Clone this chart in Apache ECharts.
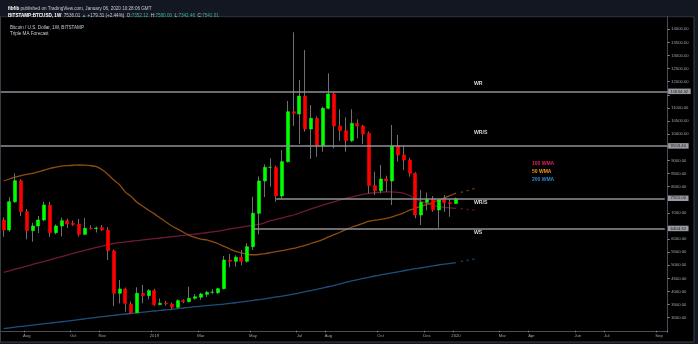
<!DOCTYPE html>
<html><head><meta charset="utf-8">
<script src="https://cdn.jsdelivr.net/npm/echarts@6/dist/echarts.min.js"></script>
<style>html,body{margin:0;padding:0;background:#131722;}#c{width:698px;height:344px;}</style>
</head><body><div id="c"></div>
<script>
// ---- categories (weekly bars, Monday) ----
const firstWeek = '2018-07-09';
const weekCount = 115;
const xTickLabels = [
  ['2018-08-06','Aug'],['2018-10-01','Oct'],['2018-11-05','Nov'],['2019-01-07','2019'],
  ['2019-03-04','Mar'],['2019-05-06','May'],['2019-07-01','Jul'],['2019-08-05','Aug'],
  ['2019-10-07','Oct'],['2019-12-02','Dec'],['2020-01-06','2020'],['2020-03-02','Mar'],
  ['2020-04-06','Apr'],['2020-06-01','Jun'],['2020-07-06','Jul'],['2020-09-07','Sep']
];
const yHiddenLabels = [6500, 7500, 9500, 11500];

// ---- OHLC ----
const openP = [6726,6345,7424,8225,7043,6319,6497,6726,7287,6242,
 6497,6700,6600,6574,6180,6410,6400,6433,6345,5544,
 3930,4094,3522,3190,3930,3839,4030,3496,3550,3522,
 3397,3650,3610,3740,3778,3892,3968,3953,4106,5200,
 5150,5304,5150,5708,6982,8214,8737,8740,7642,8950,
 10857,10770,11456,10197,10605,9549,10987,11532,10311,10133,
 9751,10414,10311,10033,8034,7844,8290,8214,9560,9205,
 9015,8507,6917,7402,7516,7108,7527,7386,7352.12];
const closeP = [6345,7424,8225,7043,6319,6497,6726,7298,6242,6497,
 6700,6574,6550,6180,6410,6400,6420,6345,5555,3930,
 4094,3549,3190,3930,3839,4030,3496,3550,3522,3397,
 3650,3610,3740,3800,3904,3968,3975,4106,5200,5150,
 5304,5150,5708,6982,8214,8737,8740,7642,8950,10857,
 10796,11456,10197,10605,9549,10987,11532,10311,10133,9751,
 10414,10311,10006,8034,7844,8290,8214,9560,9205,9015,
 8507,6917,7402,7516,7108,7490,7386,7352,7541.01];
const lowP = [6090,6280,7380,6879,5990,5899,6230,6680,6090,6180,
 6100,6420,6500,6090,6150,6370,6250,6300,5200,3446,
 3549,3229,3150,3170,3550,3700,3450,3480,3460,3320,
 3360,3550,3590,3690,3680,3790,3910,3910,4080,4922,
 4950,5000,5100,5582,6178,7600,7996,7424,7520,8920,
 10311,9625,10094,9054,9140,9331,10950,9461,9751,9331,
 9700,9842,9625,7745,7680,7745,7806,7298,8950,8633,
 8378,6791,6536,7089,7040,6432,7043,6852,7342.46];
const highP = [6829,7600,8507,8280,7150,6620,6880,7420,7420,6560,
 6820,6780,6700,6764,6800,6520,6480,6536,6450,5600,
 4438,4150,3620,4160,4247,4090,4100,3730,3640,3580,
 3700,3700,4183,3900,3950,4030,4090,4140,5353,5430,
 5380,5582,5837,7615,8390,8850,9080,8800,9396,11265,
 13885,12066,13210,11112,10680,11050,12322,11600,10949,10643,
 10949,10567,10350,10100,8569,8824,8416,10350,9968,9560,
 9100,8550,7871,7768,7640,7540,7680,7516,7580];

// ---- moving averages ----
const wma100 = [4732,4790,4850,4910,4970,5030,5090,5150,5210,5270,
 5330,5390,5450,5510,5570,5620,5680,5730,5780,5830,
 5861,5890,5915,5940,5965,5990,6015,6040,6065,6090,
 6115,6140,6165,6190,6215,6240,6270,6300,6340,6383,
 6420,6455,6490,6525,6560,6620,6700,6750,6800,6860,
 6917,6990,7070,7150,7220,7290,7360,7420,7490,7550,
 7600,7660,7707,7740,7765,7785,7800,7800,7780,7745,
 7660,7540,7440,7360,7290,7240,7210,7190,7170];
const wma50 = [8214,8290,8360,8420,8470,8507,8570,8630,8698,8740,
 8780,8800,8815,8824,8820,8800,8760,8640,8460,8250,
 8070,7790,7620,7400,7250,7100,6960,6800,6650,6500,
 6380,6260,6140,6060,6000,5964,5900,5820,5720,5620,
 5530,5470,5420,5400,5410,5440,5480,5520,5560,5600,
 5640,5700,5760,5830,5900,5980,6080,6170,6260,6360,
 6450,6520,6600,6680,6720,6750,6790,6850,6920,7000,
 7100,7180,7250,7320,7400,7480,7570,7660,7750];
const wma200 = [2580,2610,2640,2665,2690,2720,2745,2770,2795,2820,
 2845,2870,2895,2925,2955,2985,3015,3040,3065,3090,
 3115,3140,3160,3185,3210,3230,3255,3280,3300,3320,
 3345,3370,3395,3420,3440,3460,3480,3500,3520,3545,
 3570,3600,3630,3660,3690,3720,3755,3790,3825,3860,
 3900,3945,3990,4035,4080,4130,4180,4235,4290,4345,
 4400,4450,4500,4545,4590,4630,4670,4710,4750,4790,
 4830,4870,4905,4940,4975,5010,5040,5070,5100];
const fc100 = [7157,7130,7108];
const fc50 = [7790,7850,7920];
const fc200 = [5150,5190,5227];

// ---- horizontal levels & notes ----
const levelValues = [11634.32, 9553.40, 7555.00, 6404.32];
const levelStart = [null, null, '2019-06-03', '2019-05-06'];
const lastPrice = 7541.01;
const noteTexts = ['WR', 'WR/S', 'WR/S', 'WS'];
const noteValues = [11925, 10045, 7386, 6242];
const noteWeek = '2020-01-27';

// ---- build ----
const cats = [];
(function(){ const d0 = new Date(firstWeek + 'T00:00:00Z');
  for (let i = 0; i < weekCount; i++) { cats.push(new Date(d0.getTime() + i*7*864e5).toISOString().slice(0,10)); } })();
const tickMap = Object.fromEntries(xTickLabels);
const lastIdx = openP.length - 1;
const wickData = openP.map((o,i)=>[o, closeP[i], lowP[i], highP[i]]);
const bodyData = openP.map((o,i)=>[o, closeP[i], Math.min(o, closeP[i]), Math.max(o, closeP[i])]);
const fcData = arr => arr.map((v,k)=>[cats[lastIdx+1+k], v]);
const FONT = 'Liberation Sans';
const tagLabel = (v, dist) => ({show:true, position:'end', distance: dist, formatter: v.toFixed(2),
  backgroundColor:'#9a9ca3', color:'#1a1a1a', fontSize:4.3, fontFamily: FONT, padding:[1,2.5,0.5,2.5]});
const levelLines = levelValues.map((v,k)=> levelStart[k]
  ? [{coord:[levelStart[k], v], label: tagLabel(v, 3.2)}, {coord:[cats[weekCount-1], v]}]
  : {yAxis: v, label: tagLabel(v, 0.4)});
levelLines.push({yAxis: lastPrice, lineStyle:{opacity:0},
  label:{show:true, position:'end', distance:0.4, offset:[0,6], formatter: lastPrice.toFixed(2),
  backgroundColor:'#00ff00', color:'#0a2a0a', fontSize:4.3, fontFamily: FONT, padding:[1,2.5,0.5,2.5]}});

const chart = echarts.init(document.getElementById('c'), null, {renderer:'canvas', width:698, height:344});
chart.setOption({
  animation:false,
  backgroundColor:'#131722',
  textStyle:{fontFamily: FONT},
  graphic:[
    {type:'rect', z:-10, shape:{x:0, y:16.7, width:694, height:325.3}, style:{fill:'#000000'}},
    {type:'line', z:-9, shape:{x1:0, y1:16.7, x2:694, y2:16.7}, style:{stroke:'#2f3340', lineWidth:1}},
    {type:'line', z:-9, shape:{x1:694, y1:16.7, x2:694, y2:342}, style:{stroke:'#3a3e4a', lineWidth:1}},
    {type:'line', z:-9, shape:{x1:0, y1:342, x2:694, y2:342}, style:{stroke:'#3a3e4a', lineWidth:1}},
    {type:'line', z:-9, shape:{x1:0.5, y1:16.7, x2:0.5, y2:342}, style:{stroke:'#3a3e4a', lineWidth:1}}
  ],
  title:[
    {text:'{b|fibfib} published on TradingView.com, January 06, 2020 10:28:06 GMT', left:3, top:1.6,
     textStyle:{fontSize:4.6, color:'#c8cad0', fontWeight:'normal', rich:{b:{fontSize:4.6, fontWeight:'bold', color:'#ffffff'}}}},
    {text:'{b|BITSTAMP:BTCUSD, 1W}  7536.01 {g|▲} +179.31 (+2.44%)  O:{g|7352.12}  H:{g|7580.00}  L:{g|7342.46}  C:{g|7541.01}', left:3, top:8,
     textStyle:{fontSize:4.6, color:'#c8cad0', fontWeight:'normal', rich:{b:{fontSize:4.6, fontWeight:'bold', color:'#ffffff'}, g:{fontSize:4.6, color:'#35b58f'}}}},
    {text:'Bitcoin / U.S. Dollar, 1W, BITSTAMP', left:5, top:20.3, textStyle:{fontSize:4.6, color:'#c8cad0', fontWeight:'normal'}},
    {text:'Triple MA Forecast', left:5, top:26.6, textStyle:{fontSize:4.6, color:'#c8cad0', fontWeight:'normal'}}
  ],
  legend:{orient:'vertical', left:527, top:161.5, padding:0, icon:'none', itemWidth:0, itemHeight:5, itemGap:3,
    selectedMode:false, textStyle:{fontSize:5, fontWeight:'bold', fontFamily: FONT},
    data:[{name:'100 WMA', textStyle:{color:'#e0245e'}}, {name:'50 WMA', textStyle:{color:'#f39a16'}}, {name:'200 WMA', textStyle:{color:'#2a8bd8'}}]},
  grid:{left:0.7, right:30.3, top:16.2, bottom:13.2, containLabel:false},
  xAxis:{type:'category', data:cats, boundaryGap:true,
    axisLine:{show:true, lineStyle:{color:'#4a4d55', width:1}},
    axisTick:{show:true, interval:(i,v)=>tickMap[v]!==undefined, length:1.5, lineStyle:{color:'#8a8d95'}},
    axisLabel:{interval:(i,v)=>tickMap[v]!==undefined, formatter:v=>tickMap[v]||'', color:'#a0a3aa', fontSize:4.2, margin:3.2, hideOverlap:false},
    splitLine:{show:false}},
  yAxis:{type:'value', position:'right', min:2500, max:14500, interval:500, scale:false,
    axisLine:{show:true, lineStyle:{color:'#4a4d55', width:1}},
    axisTick:{show:true, length:2, lineStyle:{color:'#8a8d95'}},
    axisLabel:{showMinLabel:false, showMaxLabel:false, margin:3.5, color:'#a0a3aa', fontSize:4.2,
      formatter:v=> yHiddenLabels.indexOf(v)>=0 ? '' : v.toFixed(2)},
    splitLine:{show:false}},
  series:[
    {name:'100 WMA', type:'line', data:wma100, showSymbol:false, smooth:0.3, z:1, lineStyle:{color:'#6e1a36', width:1.3}, itemStyle:{color:'#e0245e'}},
    {name:'50 WMA', type:'line', data:wma50, showSymbol:false, smooth:0.3, z:1, lineStyle:{color:'#8e4c0e', width:1.3}, itemStyle:{color:'#f39a16'}},
    {name:'200 WMA', type:'line', data:wma200, showSymbol:false, smooth:0.3, z:1, lineStyle:{color:'#1d4f7c', width:1.3}, itemStyle:{color:'#2a8bd8'}},
    {name:'fc100', type:'scatter', data:fcData(fc100), symbol:'rect', symbolSize:[2.2,1.4], z:1, itemStyle:{color:'#6e1a36'}},
    {name:'fc50', type:'scatter', data:fcData(fc50), symbol:'rect', symbolSize:[2.2,1.4], z:1, itemStyle:{color:'#8e4c0e'}},
    {name:'fc200', type:'scatter', data:fcData(fc200), symbol:'rect', symbolSize:[2.2,1.4], z:1, itemStyle:{color:'#1d4f7c'}},
    {name:'wick', type:'candlestick', data:wickData, barWidth:1, z:2,
      itemStyle:{color:'#6f6f6f', color0:'#6f6f6f', borderColor:'#6f6f6f', borderColor0:'#6f6f6f', borderColorDoji:'#6f6f6f', borderWidth:1}},
    {name:'body', type:'candlestick', data:bodyData, barWidth:3.6, z:3,
      itemStyle:{color:'#00ff00', color0:'#ff0000', borderColor:'#00ff00', borderColor0:'#ff0000', borderColorDoji:'#ff0000', borderWidth:0.6},
      markLine:{silent:true, symbol:['none','none'], animation:false,
        lineStyle:{color:'#8f9096', width:1.6, type:'solid'}, data:levelLines},
      markPoint:{silent:true, symbol:'circle', symbolSize:0, animation:false,
        label:{show:true, position:'right', distance:0.5, formatter:p=>p.name, color:'#d8d8d8', fontSize:5.2, fontWeight:'bold', fontFamily: FONT},
        data: noteTexts.map((t,k)=>({name:t, coord:[noteWeek, noteValues[k]]}))}
    }
  ]
});
</script></body></html>
